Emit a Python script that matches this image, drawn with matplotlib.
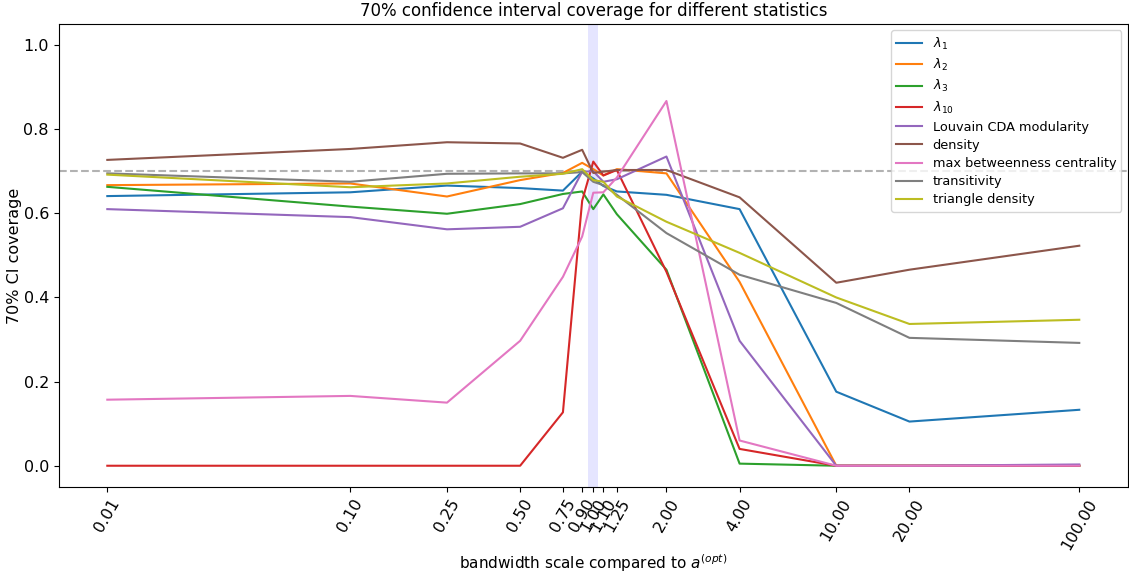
import matplotlib.pyplot as plt
from matplotlib.ticker import FixedLocator, FixedFormatter, NullLocator

# bandwidth multipliers relative to the optimal bandwidth
scales = [0.01, 0.10, 0.25, 0.50, 0.75, 0.90, 1.00, 1.10, 1.25, 2.00, 4.00, 10.00, 20.00, 100.00]

# fraction of 70% CIs covering the true value, per statistic
lam1 = [0.641, 0.650, 0.666, 0.660, 0.654, 0.699, 0.683, 0.665, 0.652, 0.644, 0.610, 0.176, 0.105, 0.133]
lam2 = [0.667, 0.671, 0.640, 0.679, 0.696, 0.720, 0.705, 0.690, 0.705, 0.695, 0.437, 0.0, 0.0, 0.0]
lam3 = [0.663, 0.616, 0.599, 0.622, 0.646, 0.652, 0.610, 0.645, 0.598, 0.466, 0.005, 0.0, 0.0, 0.0]
lam10 = [0.0, 0.0, 0.0, 0.0, 0.127, 0.630, 0.723, 0.690, 0.703, 0.461, 0.040, 0.0, 0.0, 0.0]
louvain = [0.610, 0.591, 0.562, 0.568, 0.612, 0.699, 0.700, 0.675, 0.681, 0.735, 0.297, 0.0, 0.0, 0.003]
density = [0.727, 0.753, 0.769, 0.766, 0.732, 0.751, 0.696, 0.699, 0.703, 0.703, 0.638, 0.435, 0.466, 0.523]
max_betw = [0.157, 0.166, 0.150, 0.297, 0.449, 0.545, 0.649, 0.650, 0.685, 0.867, 0.060, 0.0, 0.0, 0.0]
transitivity = [0.695, 0.675, 0.694, 0.695, 0.695, 0.698, 0.675, 0.667, 0.644, 0.553, 0.454, 0.387, 0.304, 0.292]
tri_density = [0.692, 0.662, 0.671, 0.687, 0.694, 0.705, 0.679, 0.675, 0.640, 0.580, 0.506, 0.400, 0.337, 0.347]

series = [
    (r'$\lambda_1$', lam1),
    (r'$\lambda_2$', lam2),
    (r'$\lambda_3$', lam3),
    (r'$\lambda_{10}$', lam10),
    ('Louvain CDA modularity', louvain),
    ('density', density),
    ('max betweenness centrality', max_betw),
    ('transitivity', transitivity),
    ('triangle density', tri_density),
]

fig = plt.figure(figsize=(11.29, 5.72), dpi=100)
ax = fig.add_subplot(111)
fig.subplots_adjust(left=0.052, right=0.999, top=0.958, bottom=0.149)

ax.axvspan(0.95, 1.05, color='blue', alpha=0.1, lw=0)
ax.axhline(0.7, color='gray', alpha=0.6, linestyle='--')

for label, vals in series:
    ax.plot(scales, vals, label=label)

ax.set_xscale('log')
ax.xaxis.set_major_locator(FixedLocator(scales))
ax.xaxis.set_major_formatter(FixedFormatter(['%.2f' % s for s in scales]))
ax.xaxis.set_minor_locator(NullLocator())
plt.setp(ax.get_xticklabels(), rotation=60, fontsize=11.5)
ax.tick_params(axis='y', labelsize=11.5)
ax.set_ylim(-0.05, 1.05)

ax.set_title('70% confidence interval coverage for different statistics', fontsize=12)
ax.set_xlabel(r'bandwidth scale compared to $a^{(opt)}$', fontsize=11, labelpad=0)
ax.set_ylabel('70% CI coverage', fontsize=11.5, labelpad=1)
ax.legend(loc='upper right', fontsize=9.3, labelspacing=0.4)

fig.savefig('out.png')
